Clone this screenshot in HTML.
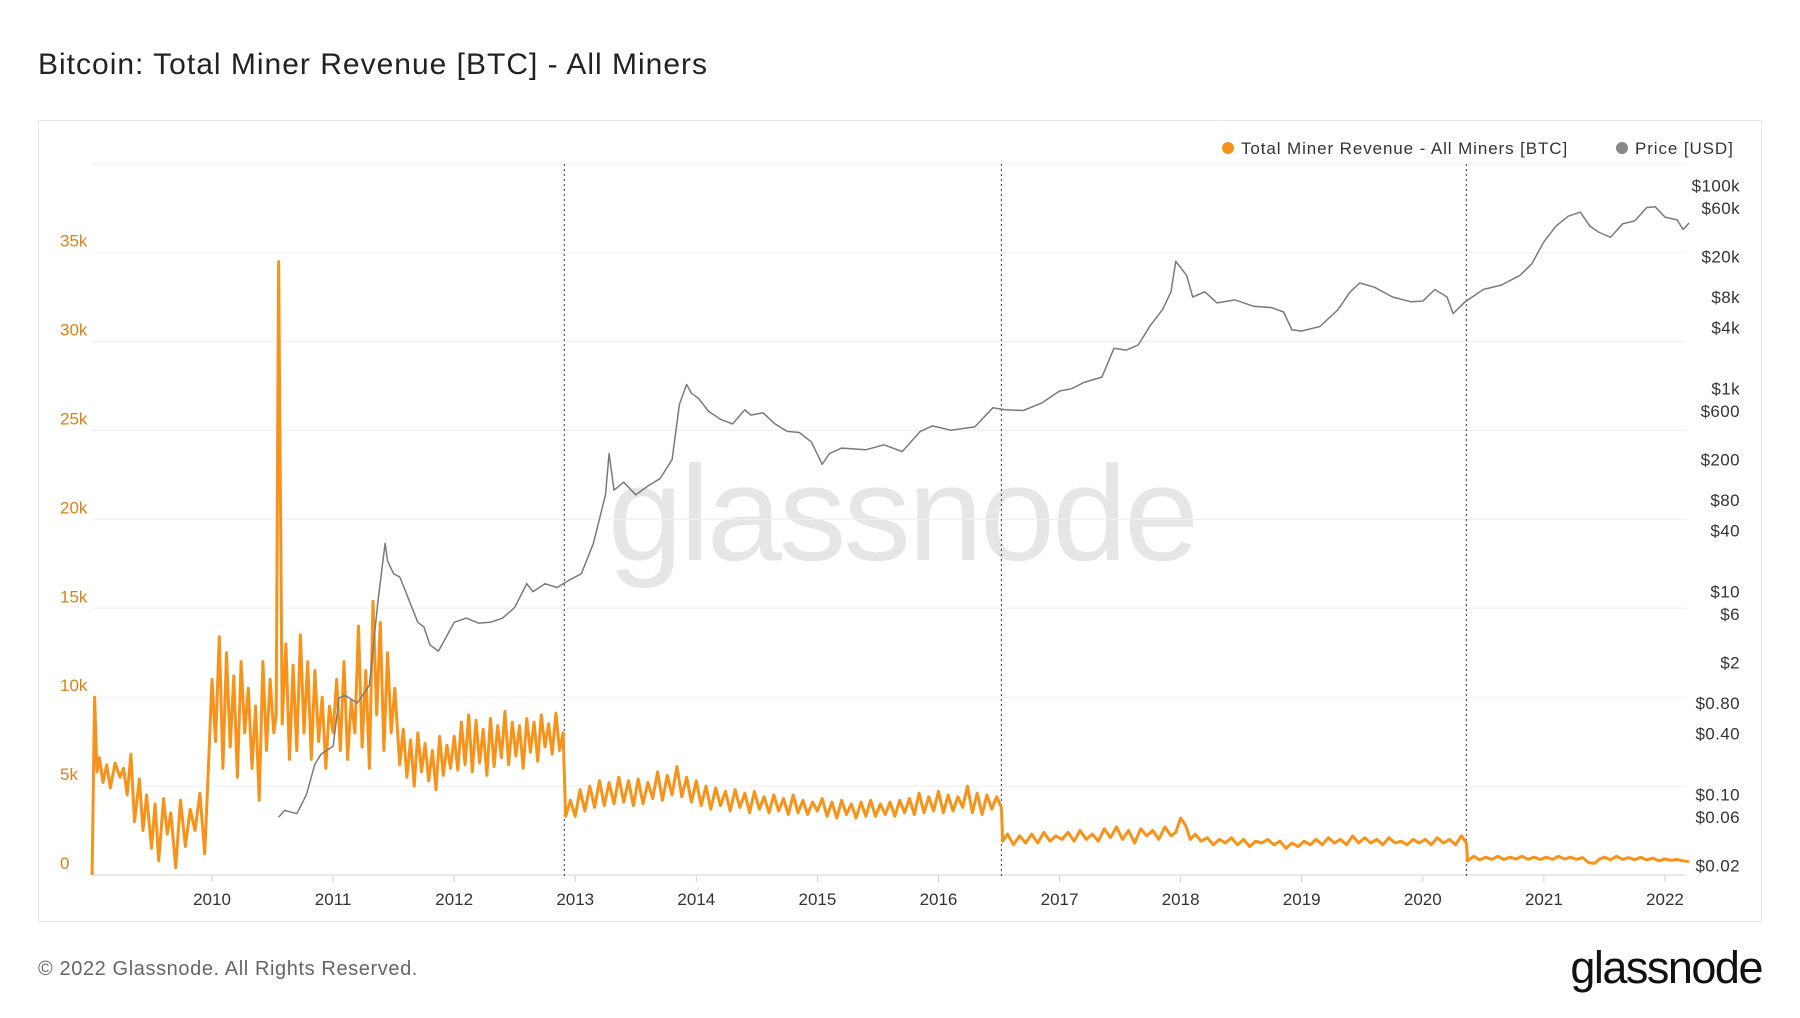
<!DOCTYPE html>
<html><head><meta charset="utf-8"><style>
html,body{margin:0;padding:0;background:#fff;}
body{width:1800px;height:1013px;overflow:hidden;font-family:"Liberation Sans",sans-serif;}
</style></head><body>
<svg id="chart" width="1800" height="1013" viewBox="0 0 1800 1013" xmlns="http://www.w3.org/2000/svg" font-family="Liberation Sans, sans-serif">
<text x="38" y="74" font-size="30" fill="#222" letter-spacing="1">Bitcoin: Total Miner Revenue [BTC] - All Miners</text>
<rect x="38.5" y="120.5" width="1723" height="801" fill="#fff" stroke="#e6e6e6"/>
<text x="902" y="560" font-size="135" fill="#e6e6e6" text-anchor="middle" letter-spacing="-3">glassnode</text>
<g id="grid"></g>
<g id="halvings"></g>
<g id="series"></g>
<g id="axes"></g>
<g>
<circle cx="1228" cy="148" r="6" fill="#f7931a"/>
<text x="1241" y="154" font-size="17" fill="#333" letter-spacing="0.9">Total Miner Revenue - All Miners [BTC]</text>
<circle cx="1622" cy="148" r="6" fill="#888"/>
<text x="1635" y="154" font-size="17" fill="#333" letter-spacing="0.9">Price [USD]</text>
</g>
<text x="38" y="975" font-size="20" fill="#666" letter-spacing="0.6">© 2022 Glassnode. All Rights Reserved.</text>
<text x="1762" y="983" font-size="45" fill="#111" text-anchor="end" letter-spacing="-1.5">glassnode</text>
</svg>
<script>
const yearTicks = [2010,2011,2012,2013,2014,2015,2016,2017,2018,2019,2020,2021,2022];
const revTicks = [0,5000,10000,15000,20000,25000,30000,35000];
const revTickLabels = ["0","5k","10k","15k","20k","25k","30k","35k"];
const priceTicks = [100000,60000,20000,8000,4000,1000,600,200,80,40,10,6,2,0.8,0.4,0.1,0.06,0.02];
const priceTickLabels = ["$100k","$60k","$20k","$8k","$4k","$1k","$600","$200","$80","$40","$10","$6","$2","$0.80","$0.40","$0.10","$0.06","$0.02"];
const halvingDates = [2012.91,2016.52,2020.36];
const revDates = [2009.01,2009.03,2009.05,2009.07,2009.1,2009.13,2009.16,2009.2,2009.24,2009.27,2009.3,2009.33,2009.36,2009.4,2009.43,2009.46,2009.5,2009.53,2009.56,2009.6,2009.63,2009.66,2009.7,2009.74,2009.78,2009.82,2009.86,2009.9,2009.94,2009.97,
2010.0,2010.03,2010.06,2010.09,2010.12,2010.15,2010.18,2010.21,2010.24,2010.27,2010.3,2010.33,2010.36,2010.39,2010.42,2010.45,2010.48,2010.51,2010.53,2010.55,2010.58,2010.61,2010.64,2010.67,2010.7,2010.73,2010.76,2010.79,2010.82,2010.85,2010.88,2010.91,2010.94,2010.97,
2011.0,2011.03,2011.06,2011.09,2011.12,2011.15,2011.18,2011.21,2011.24,2011.27,2011.3,2011.33,2011.36,2011.39,2011.42,2011.45,2011.48,2011.51,2011.55,2011.58,2011.61,2011.64,2011.67,2011.7,2011.73,2011.76,2011.79,2011.82,2011.85,2011.88,2011.91,2011.94,2011.97,
2012.0,2012.03,2012.06,2012.09,2012.12,2012.15,2012.18,2012.21,2012.24,2012.27,2012.3,2012.33,2012.36,2012.39,2012.42,2012.45,2012.48,2012.51,2012.54,2012.57,2012.6,2012.63,2012.66,2012.69,2012.72,2012.75,2012.78,2012.81,2012.84,2012.87,2012.9,2012.92,
2012.96,2013.0,2013.04,2013.08,2013.12,2013.16,2013.2,2013.24,2013.28,2013.32,2013.36,2013.4,2013.44,2013.48,2013.52,2013.56,2013.6,2013.64,2013.68,2013.72,2013.76,2013.8,2013.84,2013.88,2013.92,2013.96,
2014.0,2014.04,2014.08,2014.12,2014.16,2014.2,2014.24,2014.28,2014.32,2014.36,2014.4,2014.44,2014.48,2014.52,2014.56,2014.6,2014.64,2014.68,2014.72,2014.76,2014.8,2014.84,2014.88,2014.92,2014.96,
2015.0,2015.04,2015.08,2015.12,2015.16,2015.2,2015.24,2015.28,2015.32,2015.36,2015.4,2015.44,2015.48,2015.52,2015.56,2015.6,2015.64,2015.68,2015.72,2015.76,2015.8,2015.84,2015.88,2015.92,2015.96,
2016.0,2016.04,2016.08,2016.12,2016.16,2016.2,2016.24,2016.28,2016.32,2016.36,2016.4,2016.44,2016.48,2016.52,2016.53,
2016.57,2016.62,2016.67,2016.72,2016.77,2016.82,2016.87,2016.92,2016.97,2017.02,2017.07,2017.12,2017.17,2017.22,2017.27,2017.32,2017.37,2017.42,2017.47,2017.52,2017.57,2017.62,2017.67,2017.72,2017.77,2017.82,2017.87,2017.92,2017.96,2018.0,2018.04,2018.08,2018.12,2018.17,
2018.22,2018.27,2018.32,2018.37,2018.42,2018.47,2018.52,2018.57,2018.62,2018.67,2018.72,2018.77,2018.82,2018.87,2018.92,2018.97,2019.02,2019.07,2019.12,2019.17,2019.22,2019.27,2019.32,2019.37,2019.42,2019.47,2019.52,2019.57,2019.62,2019.67,2019.72,2019.77,2019.82,2019.87,2019.92,2019.97,
2020.02,2020.07,2020.12,2020.17,2020.22,2020.27,2020.32,2020.36,2020.37,2020.42,2020.47,2020.52,2020.57,2020.62,2020.67,2020.72,2020.77,2020.82,2020.87,2020.92,2020.97,2021.02,2021.07,2021.12,2021.17,2021.22,2021.27,2021.32,2021.37,2021.42,2021.46,2021.5,2021.55,2021.6,2021.65,2021.7,2021.75,2021.8,2021.85,2021.9,2021.95,2022.0,2022.05,2022.1,2022.15,2022.2];
const revValues = [0,10000,5800,6600,5200,6200,4900,6300,5500,6000,4500,6800,3000,5400,2500,4500,1500,4000,800,4300,2300,3500,400,4200,1600,3700,2500,4600,1200,6000,
11000,7500,13400,6000,12500,7200,11200,5500,12000,8000,10500,6000,9500,4200,12000,7000,11000,8000,9000,34500,8500,13000,6500,11800,7000,13500,8000,12000,6500,11500,7500,10000,6000,9500,
8000,11000,7000,12000,6500,9800,8000,14000,7200,11500,6000,15400,9000,14200,7000,12500,8000,10500,6200,8200,5500,7600,5000,8000,5800,7400,5300,7000,4800,7800,5600,7300,6000,
7800,5900,8600,6200,9000,5800,8700,6300,8200,5600,8800,6100,8400,6600,9200,6200,8600,6700,8400,6000,8800,6900,8600,6400,9000,7200,8500,6800,9100,7000,8000,3300,
4200,3300,4800,3600,5000,3800,5300,3900,5200,4000,5500,4100,5300,3900,5400,4000,5200,4300,5800,4200,5600,4500,6100,4400,5500,4100,
5300,3900,5000,3700,4900,3900,4700,3600,4800,3800,4600,3500,4700,3700,4400,3500,4500,3600,4300,3400,4500,3500,4200,3400,4100,
3600,4300,3300,4100,3200,4200,3400,4000,3200,4100,3300,4200,3300,4000,3400,4100,3300,4200,3500,4300,3400,4600,3500,4400,3600,
4700,3500,4500,3600,4400,3800,5000,3500,4600,3400,4500,3700,4400,3800,1900,
2300,1700,2200,1800,2300,1800,2400,1900,2200,2000,2400,1900,2500,2000,2300,1900,2600,2100,2700,2000,2500,1800,2600,2200,2500,2000,2700,2200,2400,3200,2800,2000,2300,1900,
2100,1700,2000,1800,2100,1700,2000,1600,1900,1800,2000,1700,1900,1500,1800,1600,1900,1700,2000,1700,2100,1800,2000,1700,2200,1800,2100,1800,2000,1700,2100,1800,1900,1700,2000,1800,
2000,1700,2100,1800,2000,1700,2200,1800,800,1050,850,1000,880,1050,870,1000,900,1050,880,1000,870,1000,880,1050,900,1000,880,980,700,650,900,1000,850,1050,880,980,860,1000,850,950,800,900,820,880,800,
750];
const priceDates = [2010.55,2010.6,2010.7,2010.78,2010.85,2010.9,2011.0,2011.05,2011.1,2011.2,2011.3,2011.37,2011.43,2011.45,2011.5,2011.55,2011.6,2011.7,2011.75,2011.8,2011.87,2011.93,2012.0,2012.1,2012.2,2012.3,2012.4,2012.5,2012.6,2012.65,2012.75,2012.85,2012.95,2013.05,2013.15,2013.25,2013.28,2013.32,2013.4,2013.5,2013.6,2013.7,2013.8,2013.86,2013.92,2013.96,2014.02,2014.1,2014.2,2014.3,2014.4,2014.45,2014.55,2014.65,2014.75,2014.85,2014.95,2015.04,2015.1,2015.2,2015.4,2015.55,2015.7,2015.85,2015.95,2016.1,2016.3,2016.45,2016.55,2016.7,2016.85,2017.0,2017.1,2017.2,2017.35,2017.45,2017.55,2017.65,2017.75,2017.85,2017.92,2017.96,2018.05,2018.1,2018.2,2018.3,2018.45,2018.6,2018.75,2018.85,2018.92,2019.0,2019.15,2019.3,2019.4,2019.48,2019.6,2019.75,2019.9,2020.0,2020.1,2020.2,2020.25,2020.35,2020.5,2020.65,2020.8,2020.9,2021.0,2021.1,2021.2,2021.3,2021.38,2021.45,2021.55,2021.65,2021.75,2021.85,2021.92,2022.0,2022.1,2022.15,2022.2];
const priceValues = [0.06,0.07,0.065,0.1,0.2,0.25,0.3,0.9,0.95,0.8,1.2,8,30,20,15,14,10,5,4.5,3,2.6,3.5,5,5.5,4.9,5,5.5,7,12,10,12,11,13,15,30,90,230,100,120,90,110,130,200,700,1100,900,800,600,500,450,620,550,580,450,380,370,300,180,230,260,250,280,240,380,430,390,420,650,620,610,720,950,1000,1150,1300,2500,2400,2700,4200,6000,9000,18000,13000,8000,9000,7000,7500,6500,6300,5700,3800,3700,4100,6000,9000,11000,10000,8000,7200,7300,9500,8000,5500,7200,9500,10500,13000,17000,28000,40000,50000,55000,40000,35000,31000,42000,45000,61000,62000,49000,46000,37000,43000,39000];

const X0=212, XPY=121.08, Y0=875, YPER=88.9/5000;
const xS = t => X0 + (t-2010)*XPY;
const yRev = v => Y0 - v*YPER;
const yPrice = p => 388.7 - 101.5*(Math.log10(p)-3);
const NS="http://www.w3.org/2000/svg";
function mk(tag, attrs, parent){const e=document.createElementNS(NS,tag);for(const k in attrs)e.setAttribute(k,attrs[k]);parent.appendChild(e);return e;}
const grid=document.getElementById('grid'), axes=document.getElementById('axes'), series=document.getElementById('series'), hv=document.getElementById('halvings');
for(let v=0; v<=40000; v+=5000){
  const l=mk('line',{x1:92,x2:1686,y1:yRev(v),y2:yRev(v),stroke:v===0?'#dcdcdc':'#f0f0f0','stroke-width':1.2},grid);
  
  
}
revTicks.forEach((v,i)=>{
  const t=mk('text',{x:60,y:yRev(v)-6,'font-size':17,fill:'#d9821a'},axes);
  t.textContent=revTickLabels[i];
  
  
});
priceTicks.forEach((p,i)=>{
  const t=mk('text',{x:1740,y:yPrice(p)+6,'font-size':17,fill:'#333','text-anchor':'end','letter-spacing':0.4},axes);
  t.textContent=priceTickLabels[i];
  
  
});
yearTicks.forEach(y=>{
  const tk=mk('line',{x1:xS(y),x2:xS(y),y1:876,y2:882,stroke:'#ccc'},axes);
  
  
  const t=mk('text',{x:xS(y),y:905,'font-size':17,fill:'#333','text-anchor':'middle'},axes);
  t.textContent=String(y);
  
  
});
halvingDates.forEach(d=>{
  const l=mk('line',{x1:xS(d),x2:xS(d),y1:164,y2:878,stroke:'#555','stroke-width':1.2,'stroke-dasharray':'2,3'},hv);
  
  
});
const rp=mk('path',{d:revDates.map((t,i)=>(i?'L':'M')+xS(t).toFixed(1)+','+yRev(revValues[i]).toFixed(1)).join(''),fill:'none',stroke:'#f7931a','stroke-width':3,'stroke-linejoin':'round'},series);


const pp=mk('path',{d:priceDates.map((t,i)=>(i?'L':'M')+xS(t).toFixed(1)+','+yPrice(priceValues[i]).toFixed(1)).join(''),fill:'none',stroke:'#7a7a7a','stroke-width':1.5,'stroke-linejoin':'round'},series);


</script>
</body></html>
